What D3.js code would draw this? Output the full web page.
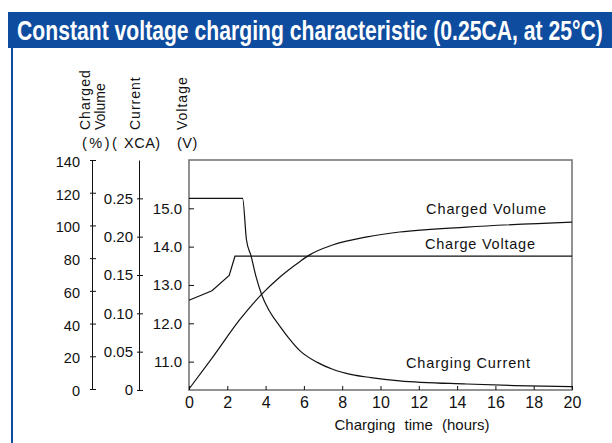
<!DOCTYPE html>
<html lang="en">
<head>
<meta charset="UTF-8">
<title>Constant voltage charging characteristic</title>
<script src="https://cdn.jsdelivr.net/npm/d3@7"></script>
<style>
  body { margin: 0; background: #fff; }
  svg { display: block; }
</style>
</head>
<body>
<svg id="chart" width="612" height="443"></svg>
<script>
// values
const hourTicks = [0, 2, 4, 6, 8, 10, 12, 14, 16, 18, 20]
const volumeTicks = [0, 20, 40, 60, 80, 100, 120, 140]
const currentTicks = [0, 0.05, 0.10, 0.15, 0.20, 0.25]
const voltageTicks = [11, 12, 13, 14, 15]

// charging current (xCA)
const currentHours = [0, 2.8, 3.0, 3.24, 3.5, 3.8, 4.2, 4.75, 5.2, 5.8, 6.7, 7.5, 8.5, 9.5, 11, 14.5, 17, 20]
const currentValues = [0.25, 0.25, 0.196, 0.175, 0.148, 0.124, 0.103, 0.083, 0.068, 0.051, 0.036, 0.027, 0.020, 0.0162, 0.012, 0.0078, 0.0058, 0.0043]

// charge voltage (V)
const voltageHours = [0, 1.2, 2.1, 2.4, 20]
const voltageValues = [12.6, 12.85, 13.25, 13.75, 13.75]

// charged volume (%)
const volumeHours = [0, 1.27, 2.66, 3.8, 4.75, 5.8, 6.3, 7.5, 9.3, 11, 14.5, 20]
const volumeValues = [0, 20, 42.5, 58, 68.5, 78, 82, 88, 93, 96, 99, 102]

const zip = (ts, vs) => ts.map((t, i) => ({ t: t, v: vs[i] }))

const font = '"Liberation Sans", Arial, Helvetica, sans-serif'
const svg = d3.select('#chart').attr('font-family', font)
const blue = '#0e4c9f'

// title bar
svg.append('rect')
    .attr('x', 8).attr('y', 12)
    .attr('width', 604).attr('height', 36)
    .attr('fill', blue)

// narrow bold title: squeeze the text horizontally to fit the bar
const title = svg.append('text')
    .attr('x', 0).attr('y', 0)
    .attr('fill', '#fff')
    .attr('font-weight', 'bold')
    .attr('font-size', 27)
    .text('Constant voltage charging characteristic (0.25CA, at 25°C)')
const squeeze = 586 / title.node().getComputedTextLength()
title.attr('transform', `translate(17,40) scale(${squeeze},1)`)

// panel border on the left
svg.append('line')
    .attr('x1', 12).attr('x2', 12)
    .attr('y1', 48).attr('y2', 443)
    .attr('stroke', blue).attr('stroke-width', 2)

const plot = { left: 189, right: 572, top: 160, bottom: 390 }

const x = d3.scaleLinear().domain([0, 20]).range([plot.left, plot.right])
const yVol = d3.scaleLinear().domain([0, 140]).range([plot.bottom - 1, plot.top])
const yCur = d3.scaleLinear().domain([0, 0.30]).range([plot.bottom, plot.top])
const yVolt = d3.scaleLinear().domain([10.26, 16.26]).range([plot.bottom, plot.top])

function styleAxis(g, size) {
    g.attr('font-family', null).attr('font-size', size)
    g.selectAll('text').attr('fill', '#111')
    g.selectAll('line, path').attr('stroke', '#111')
}

// charged volume axis
const volAxis = svg.append('g')
    .attr('transform', 'translate(92,0)')
    .call(d3.axisLeft(yVol).tickValues(volumeTicks).tickSize(-4).tickSizeOuter(0).tickPadding(12))
styleAxis(volAxis, 14.5)
volAxis.selectAll('.tick line').attr('x1', -2)
volAxis.selectAll('.tick text').attr('dy', '0.45em')

// current axis
const curAxis = svg.append('g')
    .attr('transform', 'translate(139,0)')
    .call(d3.axisLeft(yCur).tickValues(currentTicks).tickSize(-4).tickSizeOuter(0).tickPadding(6)
        .tickFormat(d => d === 0 ? '0' : d3.format('.2f')(d)))
styleAxis(curAxis, 15)
curAxis.selectAll('.tick line').attr('x1', -2)

// plot frame
svg.append('rect')
    .attr('x', plot.left).attr('y', plot.top)
    .attr('width', plot.right - plot.left).attr('height', plot.bottom - plot.top)
    .attr('fill', 'none')
    .attr('stroke', '#777').attr('stroke-width', 1.6)

// voltage axis on the plot edge
const voltAxis = svg.append('g')
    .attr('transform', `translate(${plot.left},0)`)
    .call(d3.axisLeft(yVolt).tickValues(voltageTicks).tickSize(-5).tickPadding(7).tickFormat(d3.format('.1f')))
styleAxis(voltAxis, 15)
voltAxis.select('.domain').remove()

// time axis
const xAxis = svg.append('g')
    .attr('transform', `translate(0,${plot.bottom})`)
    .call(d3.axisBottom(x).tickValues(hourTicks).tickSize(-4).tickPadding(7))
styleAxis(xAxis, 16)
xAxis.select('.domain').remove()

// curves
const line = yScale => d3.line().x(d => x(d.t)).y(d => yScale(d.v))

svg.append('path')
    .attr('d', line(yCur).curve(d3.curveMonotoneX)(zip(currentHours, currentValues)))
    .attr('fill', 'none').attr('stroke', '#111').attr('stroke-width', 1.2)

svg.append('path')
    .attr('d', line(yVolt)(zip(voltageHours, voltageValues)))
    .attr('fill', 'none').attr('stroke', '#111').attr('stroke-width', 1.2)

svg.append('path')
    .attr('d', line(yVol).curve(d3.curveMonotoneX)(zip(volumeHours, volumeValues)))
    .attr('fill', 'none').attr('stroke', '#111').attr('stroke-width', 1.2)

// curve labels
const curveLabels = [
    { text: 'Charged Volume', x: 426, y: 214, w: 120 },
    { text: 'Charge Voltage', x: 425, y: 249, w: 110 },
    { text: 'Charging Current', x: 406, y: 368, w: 124 }
]
svg.selectAll('.curve-label')
    .data(curveLabels)
    .join('text')
    .attr('class', 'curve-label')
    .attr('x', d => d.x).attr('y', d => d.y)
    .attr('font-size', 14.5)
    .attr('fill', '#111')
    .attr('textLength', d => d.w)
    .attr('lengthAdjust', 'spacing')
    .text(d => d.text)

// axis titles (rotated)
const axisTitles = [
    { text: 'Charged', x: 90, ls: 1 },
    { text: 'Volume', x: 105, ls: 0 },
    { text: 'Current', x: 140, ls: 1 },
    { text: 'Voltage', x: 187, ls: 1 }
]
svg.selectAll('.axis-title')
    .data(axisTitles)
    .join('text')
    .attr('class', 'axis-title')
    .attr('transform', d => `translate(${d.x},130) rotate(-90)`)
    .attr('font-size', 14)
    .attr('letter-spacing', d => d.ls)
    .attr('fill', '#111')
    .text(d => d.text)

const unitLabels = [
    { text: '(%)(', x: 82 },
    { text: 'XCA)', x: 124 },
    { text: '(V)', x: 177 }
]
svg.selectAll('.unit')
    .data(unitLabels)
    .join('text')
    .attr('class', 'unit')
    .attr('x', d => d.x).attr('y', 148)
    .attr('font-size', 14.5)
    .attr('letter-spacing', d => d.text === '(%)(' ? 2.5 : 0.5)
    .attr('fill', '#111')
    .text(d => d.text)

// x axis title
svg.append('text')
    .attr('x', 412).attr('y', 430)
    .attr('text-anchor', 'middle')
    .attr('font-size', 15)
    .attr('word-spacing', 5)
    .attr('fill', '#111')
    .text('Charging time (hours)')
</script>
</body>
</html>
